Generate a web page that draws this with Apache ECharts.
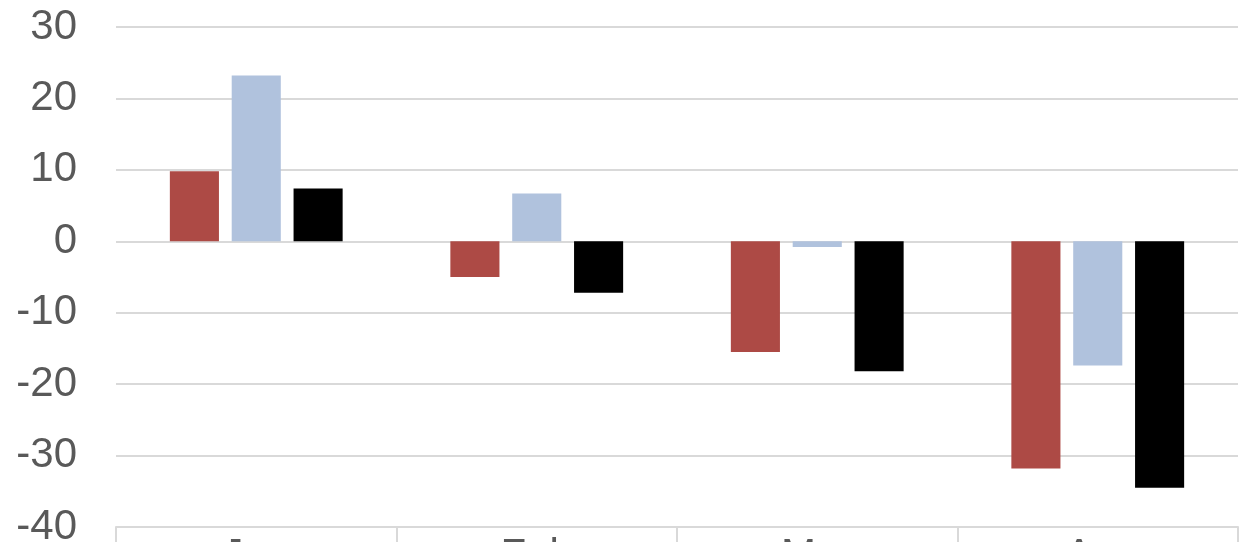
<!DOCTYPE html>
<html>
<head>
<meta charset="utf-8">
<script src="https://cdn.jsdelivr.net/npm/echarts@6/dist/echarts.min.js"></script>
<style>
html,body{margin:0;padding:0;background:#fff;}
#chart{width:1245px;height:542px;}
</style>
</head>
<body>
<div id="chart"></div>
<script>
var categories = ['Jan', 'Feb', 'Mar', 'Apr'];
var seriesRed = [9.8, -5.0, -15.5, -31.8];
var seriesBlue = [23.2, 6.7, -0.8, -17.4];
var seriesBlack = [7.4, -7.2, -18.2, -34.5];
var yMin = -40, yMax = 30, yStep = 10;

var chart = echarts.init(document.getElementById('chart'), null, {renderer: 'canvas'});
var font = '"Liberation Sans", Arial, sans-serif';
function bar(name, data, color) {
  return {
    name: name, type: 'bar', data: data,
    barWidth: '17.5%', barGap: '26%',
    itemStyle: {color: color},
    emphasis: {disabled: true}
  };
}
chart.setOption({
  animation: false,
  grid: {left: 116, right: 7, top: 27, bottom: 15, containLabel: false, outerBoundsMode: 'none'},
  xAxis: {
    type: 'category', data: categories,
    axisLine: {onZero: false, lineStyle: {color: '#d9d9d9', width: 2}},
    axisTick: {show: true, alignWithLabel: false, length: 30, lineStyle: {color: '#d9d9d9', width: 2}},
    axisLabel: {fontSize: 42, color: '#595959', fontFamily: font, margin: 8}
  },
  yAxis: {
    type: 'value', min: yMin, max: yMax, interval: yStep,
    axisLine: {show: false}, axisTick: {show: false},
    splitLine: {lineStyle: {color: '#d9d9d9', width: 2}},
    axisLabel: {fontSize: 42, color: '#595959', fontFamily: font, margin: 39}
  },
  series: [
    bar('Series 1', seriesRed, '#ad4a45'),
    bar('Series 2', seriesBlue, '#b0c2dd'),
    bar('Series 3', seriesBlack, '#000000')
  ]
});
</script>
</body>
</html>
